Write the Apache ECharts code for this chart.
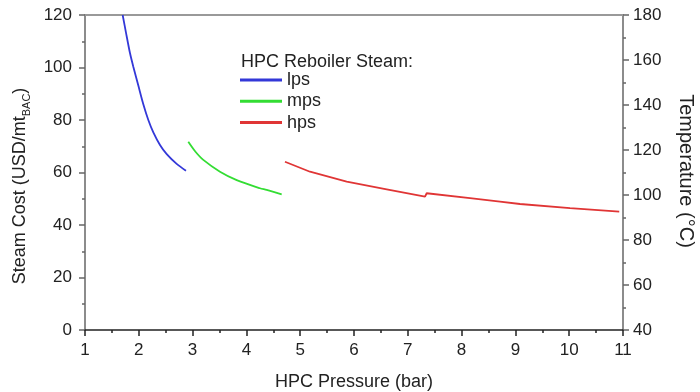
<!DOCTYPE html>
<html>
<head>
<meta charset="utf-8">
<script src="https://cdn.jsdelivr.net/npm/echarts@6/dist/echarts.min.js"></script>
<style>
html,body{margin:0;padding:0;background:#fff;}
#c{width:700px;height:392px;}
</style>
</head>
<body>
<div id="c"></div>
<script>
// ---- data ----
const lpsX = [1.70, 1.76, 1.836, 1.898, 1.99, 2.084, 2.177, 2.27, 2.394, 2.519, 2.704, 2.877];
const lpsY = [120, 113.5, 105.5, 100.3, 93.2, 86.0, 80.0, 75.3, 70.5, 67.0, 63.3, 60.7];
const mpsX = [2.920, 3.05, 3.199, 3.509, 3.820, 4.253, 4.377, 4.656];
const mpsY = [71.7, 68.0, 64.8, 60.3, 57.1, 54.0, 53.4, 51.7];
const hpsX = [4.717, 5.182, 5.864, 6.608, 7.320, 7.351, 8.156, 8.714, 9.086, 10.015, 10.93];
const hpsY = [64.1, 60.3, 56.5, 53.6, 50.8, 52.1, 50.2, 48.9, 48.0, 46.4, 45.1];
const seriesNames = ['lps', 'mps', 'hps'];
const legendTitle = 'HPC Reboiler Steam:';
const xName = 'HPC Pressure (bar)';
const yNameMain = 'Steam Cost (USD/mt';
const yNameSub = 'BAC';
const y2Name = 'Temperature (°C)';

const zip = (xs, ys) => xs.map((x, i) => [x, ys[i]]);
const FONT = 'Liberation Sans, Arial, sans-serif';
const TXT = '#222';

const chart = echarts.init(document.getElementById('c'), null, {renderer: 'canvas'});

const baseAxis = (lineColor, margin) => ({
  type: 'value',
  axisLine: {show: true, lineStyle: {color: lineColor, width: 1.5}},
  axisTick: {show: true, inside: false, length: 6, lineStyle: {color: lineColor, width: 1.5}},
  minorTick: {show: true, splitNumber: 2, length: 3, lineStyle: {color: lineColor, width: 1.5}},
  splitLine: {show: false},
  minorSplitLine: {show: false},
  axisLabel: {fontSize: 17, color: TXT, fontFamily: FONT, margin: margin}
});

chart.setOption({
  animation: false,
  backgroundColor: '#fff',
  grid: {left: 85, right: 77, top: 15, bottom: 62, containLabel: false, outerBoundsMode: 'none'},
  xAxis: [
    Object.assign(baseAxis('#222', 12), {
      min: 1, max: 11, interval: 1, position: 'bottom',
      name: xName, nameLocation: 'middle', nameGap: 43,
      nameTextStyle: {fontSize: 18, color: TXT, fontFamily: FONT}
    }),
    {
      type: 'value', min: 1, max: 11, interval: 1, position: 'top',
      axisLine: {show: true, lineStyle: {color: '#999', width: 2}},
      axisTick: {show: false}, axisLabel: {show: false}, splitLine: {show: false}
    }
  ],
  yAxis: [
    Object.assign(baseAxis('#666', 13), {
      min: 0, max: 120, interval: 20, position: 'left'
    }),
    Object.assign(baseAxis('#666', 10), {
      min: 40, max: 180, interval: 20, position: 'right'
    })
  ],
  legend: {
    orient: 'vertical',
    left: 240, top: 71, padding: 0,
    itemWidth: 42, itemHeight: 3, itemGap: 3.3,
    icon: 'rect',
    textStyle: {fontSize: 18, color: TXT, fontFamily: FONT},
    data: seriesNames
  },
  graphic: [
    {
      type: 'text', left: 241, top: 53,
      style: {text: legendTitle, fontSize: 18, fill: TXT, fontFamily: FONT}
    },
    {
      type: 'text', x: 20, y: 186, rotation: Math.PI / 2,
      style: {
        text: '{a|' + yNameMain + '}{b|' + yNameSub + '}{a|)}',
        align: 'center', verticalAlign: 'middle',
        rich: {
          a: {fontSize: 18, fill: TXT, fontFamily: FONT, lineHeight: 24, verticalAlign: 'middle'},
          b: {fontSize: 11, fill: TXT, fontFamily: FONT, lineHeight: 24, verticalAlign: 'bottom'}
        }
      }
    },
    {
      type: 'text', x: 686, y: 171, rotation: -Math.PI / 2,
      style: {text: y2Name, fontSize: 20, fill: TXT, fontFamily: FONT, align: 'center', verticalAlign: 'middle'}
    }
  ],
  series: [
    {name: seriesNames[0], type: 'line', data: zip(lpsX, lpsY), showSymbol: false, smooth: 0.3,
     lineStyle: {color: '#3338d8', width: 1.8}, itemStyle: {color: '#3338d8'}},
    {name: seriesNames[1], type: 'line', data: zip(mpsX, mpsY), showSymbol: false, smooth: 0.3,
     lineStyle: {color: '#33dd33', width: 1.8}, itemStyle: {color: '#33dd33'}},
    {name: seriesNames[2], type: 'line', data: zip(hpsX, hpsY), showSymbol: false, smooth: false,
     lineStyle: {color: '#e03535', width: 1.8}, itemStyle: {color: '#e03535'}}
  ]
});
</script>
</body>
</html>
